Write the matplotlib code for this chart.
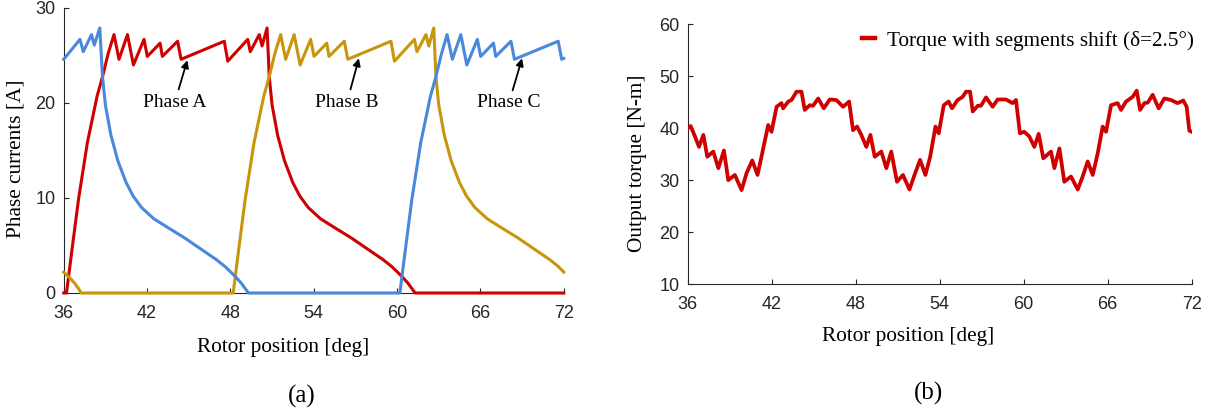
import matplotlib
matplotlib.use("Agg")
import matplotlib.pyplot as plt

# phase currents [A] against rotor position [deg]
phase_a_deg = [36.0, 36.2, 36.6, 37.06, 37.7, 38.4, 38.8, 39.2, 39.62, 39.98, 40.59, 41.02,
               41.78, 42.02, 42.94, 43.1, 44.2, 44.45, 47.56, 47.81, 49.25, 49.43, 50.08,
               50.28, 50.64, 50.8, 51.0, 51.4, 51.9, 52.5, 53.0, 53.6, 54.5, 55.7, 56.7,
               57.6, 58.4, 59.0, 59.6, 60.1, 60.5, 60.8, 61.05, 61.3, 72.0]
phase_a_amp = [0.0, 0.0, 4.6, 9.8, 15.8, 20.7, 22.8, 25.2, 27.2, 24.6, 27.2, 24.0,
               26.7, 24.9, 26.3, 24.9, 26.5, 24.6, 26.5, 24.4, 26.7, 25.4, 27.2,
               26.0, 27.9, 22.7, 19.8, 16.6, 13.9, 11.6, 10.2, 9.0, 7.8, 6.7, 5.8,
               4.9, 4.1, 3.5, 2.8, 2.1, 1.5, 1.0, 0.5, 0.0, 0.0]

phase_b_deg = [36.0, 36.5, 36.8, 37.05, 37.25, 48.2, 48.6, 49.06, 49.7, 50.4, 50.8, 51.2,
               51.62, 51.98, 52.59, 53.02, 53.78, 54.02, 54.94, 55.1, 56.2, 56.45, 59.56,
               59.81, 61.25, 61.43, 62.08, 62.28, 62.64, 62.8, 63.0, 63.4, 63.9, 64.5,
               65.0, 65.6, 66.5, 67.7, 68.7, 69.6, 70.4, 71.0, 71.6, 72.0]
phase_b_amp = [2.2, 1.5, 1.0, 0.5, 0.0, 0.0, 4.6, 9.8, 15.8, 20.7, 22.8, 25.2,
               27.2, 24.6, 27.2, 24.0, 26.7, 24.9, 26.3, 24.9, 26.5, 24.6, 26.5,
               24.4, 26.7, 25.4, 27.2, 26.0, 27.9, 22.7, 19.8, 16.6, 13.9, 11.6,
               10.2, 9.0, 7.8, 6.7, 5.8, 4.9, 4.1, 3.5, 2.8, 2.2]

phase_c_deg = [36.0, 37.17, 37.41, 38.0, 38.2, 38.6, 38.79, 39.0, 39.4, 39.9, 40.5, 41.0,
               41.6, 42.5, 43.7, 44.7, 45.6, 46.4, 47.0, 47.6, 48.1, 48.5, 48.8, 49.05,
               49.3, 60.2, 60.6, 61.06, 61.7, 62.4, 62.8, 63.2, 63.6, 63.98, 64.59,
               65.02, 65.78, 66.02, 66.94, 67.1, 68.2, 68.45, 71.6, 71.85, 72.0]
phase_c_amp = [24.6, 26.7, 25.4, 27.2, 26.1, 27.9, 22.8, 19.8, 16.6, 13.9, 11.6, 10.2,
               9.0, 7.8, 6.7, 5.8, 4.9, 4.1, 3.5, 2.8, 2.1, 1.5, 1.0, 0.5,
               0.0, 0.0, 4.6, 9.8, 15.8, 20.7, 22.8, 25.2, 27.2, 24.6, 27.2,
               24.0, 26.7, 24.9, 26.3, 24.9, 26.5, 24.6, 26.5, 24.6, 24.7]

# output torque [N-m] with segments shifted by 2.5 deg
torque_deg = [36.0, 36.21, 36.52, 36.81, 37.12, 37.4, 37.83, 38.19, 38.59, 38.9, 39.37,
              39.85, 40.2, 40.61, 40.99, 41.27, 41.75, 41.99, 42.35, 42.7, 42.82, 43.18,
              43.42, 43.77, 44.13, 44.36, 44.72, 44.96, 45.32, 45.72, 46.15, 46.62, 47.1,
              47.53, 47.81, 48.1, 48.4, 48.76, 49.05, 49.36, 49.83, 50.19, 50.54, 50.95,
              51.38, 51.84, 52.2, 52.6, 52.98, 53.32, 53.7, 53.93, 54.29, 54.64, 54.88,
              55.28, 55.64, 55.88, 56.17, 56.36, 56.72, 56.95, 57.31, 57.78, 58.14,
              58.73, 59.21, 59.45, 59.73, 60.04, 60.4, 60.76, 61.07, 61.4, 61.95, 62.19,
              62.55, 62.9, 63.38, 63.86, 64.21, 64.57, 64.93, 65.29, 65.64, 65.88, 66.24,
              66.71, 66.95, 67.31, 67.78, 68.07, 68.31, 68.62, 68.86, 69.21, 69.64,
              70.05, 70.52, 70.99, 71.4, 71.64, 71.83, 72.0]
torque_val = [40.0, 40.4, 38.4, 36.4, 38.7, 34.5, 35.5, 32.3, 35.7, 30.0, 31.0,
              28.1, 31.3, 33.8, 31.0, 34.5, 40.6, 39.3, 44.1, 44.8, 43.8, 45.1,
              45.4, 47.0, 47.0, 43.5, 44.4, 44.3, 45.7, 43.8, 45.5, 45.4, 44.1,
              45.1, 39.6, 40.3, 38.7, 36.4, 38.7, 34.5, 35.5, 32.3, 35.5, 29.7,
              31.0, 28.2, 31.0, 33.9, 31.0, 34.5, 40.3, 39.0, 44.4, 45.1, 43.8,
              45.4, 46.0, 47.0, 47.0, 43.2, 44.3, 44.3, 45.9, 44.1, 45.5,
              45.5, 44.8, 45.4, 39.0, 39.3, 38.4, 36.4, 38.9, 34.2, 35.5, 32.3,
              36.1, 29.7, 30.7, 28.2, 30.7, 33.6, 31.0, 35.2, 40.3, 39.3, 44.4,
              44.8, 43.5, 45.1, 46.0, 47.2, 43.5, 44.8, 44.9, 46.4, 43.8,
              45.7, 45.4, 44.8, 45.3, 44.1, 39.5, 39.3]

x_ticks = [36, 42, 48, 54, 60, 66, 72]
red = "#D00000"
blue = "#4A88DC"
gold = "#C8960C"
ink = "#262626"

serif = "Liberation Serif"
plt.rcParams["font.family"] = "Liberation Sans"

fig = plt.figure(figsize=(12.09, 4.16), dpi=100)
ax_a = fig.add_axes([0.0527, 0.2957, 0.4136, 0.6851])
ax_b = fig.add_axes([0.5688, 0.3166, 0.4169, 0.6257])


def style_axis(ax):
    for side in ["top", "right"]:
        ax.spines[side].set_visible(False)
    for side in ["left", "bottom"]:
        ax.spines[side].set_linewidth(0.8)
        ax.spines[side].set_color(ink)
        ax.spines[side].set_zorder(1)
    ax.set_xticks(x_ticks)
    ax.set_xlim(36, 72)
    ax.tick_params(direction="in", length=3.6, width=0.8, color=ink,
                   labelsize=13, labelcolor=ink)
    ax.tick_params(axis="x", pad=8.5)
    ax.tick_params(axis="y", pad=6)


# (a) phase currents
ax_a.plot(phase_a_deg, phase_a_amp, color=red, lw=2.2, clip_on=False, zorder=3)
ax_a.plot(phase_b_deg, phase_b_amp, color=gold, lw=2.2, clip_on=False, zorder=3)
ax_a.plot(phase_c_deg, phase_c_amp, color=blue, lw=2.2, clip_on=False, zorder=3)
ax_a.set_ylim(0, 30)
ax_a.set_yticks([0, 10, 20, 30])
style_axis(ax_a)

arrow = dict(arrowstyle="-|>", color="black", lw=1.3, mutation_scale=11,
             shrinkA=1, shrinkB=0)
ax_a.annotate("Phase A", xy=(44.9, 24.5), xytext=(44.0, 20.1), ha="center", va="center",
              fontsize=14, family=serif, arrowprops=arrow)
ax_a.annotate("Phase B", xy=(57.25, 24.7), xytext=(56.4, 20.1), ha="center", va="center",
              fontsize=14, family=serif, arrowprops=arrow)
ax_a.annotate("Phase C", xy=(69.0, 24.7), xytext=(68.05, 20.0), ha="center", va="center",
              fontsize=14, family=serif, arrowprops=arrow)

ax_a.set_xlabel("Rotor position [deg]", family=serif, fontsize=15.3, va="center")
ax_a.xaxis.set_label_coords(0.4386, -0.193)
ax_a.set_ylabel("Phase currents [A]", family=serif, fontsize=15.3, va="center")
ax_a.yaxis.set_label_coords(-0.0954, 0.47)

# (b) output torque
ax_b.plot(torque_deg, torque_val, color=red, lw=2.7, solid_joinstyle="round",
          label="Torque with segments shift (\u03b4=2.5\u00b0)", zorder=3)
ax_b.set_ylim(10, 60)
ax_b.set_yticks([10, 20, 30, 40, 50, 60])
style_axis(ax_b)
leg = ax_b.legend(loc="center right", bbox_to_anchor=(1.005, 0.936), frameon=False,
                  handlelength=0.6, handletextpad=0.6, borderpad=0, borderaxespad=0,
                  prop={"family": serif, "size": 15.3})
leg.get_lines()[0].set_linewidth(3.2)

ax_b.set_xlabel("Rotor position [deg]", family=serif, fontsize=15.3, va="center")
ax_b.xaxis.set_label_coords(0.4368, -0.2013)
ax_b.set_ylabel("Output torque [N-m]", family=serif, fontsize=15.3, va="center")
ax_b.yaxis.set_label_coords(-0.0986, 0.464)

fig.text(0.2498, 0.048, "(a)", ha="center", va="center", family=serif, fontsize=18)
fig.text(0.7676, 0.0553, "(b)", ha="center", va="center", family=serif, fontsize=18)

fig.savefig("out.png", dpi=100)
